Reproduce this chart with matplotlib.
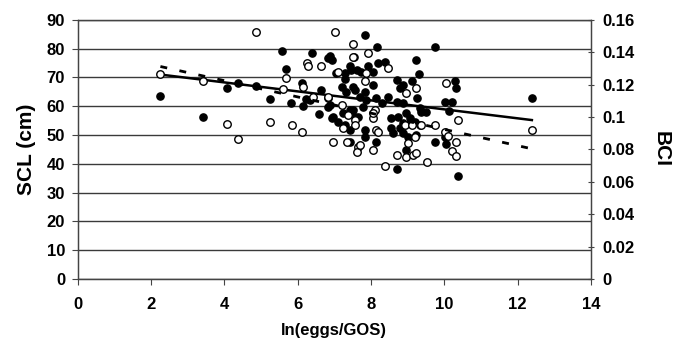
import numpy as np
import matplotlib.pyplot as plt

plt.rcParams['font.family'] = ['Liberation Sans', 'DejaVu Sans']
plt.rcParams['font.weight'] = 'bold'

# filled circles: SCL (cm), left axis
scl_x = [2.26, 3.43, 4.07, 4.37, 4.88, 5.25, 5.57, 5.68, 5.83, 6.11, 6.15, 6.23,
         6.58, 6.39, 6.63, 6.83, 6.83, 6.88, 6.93, 7.53, 7.04, 7.30, 7.29, 7.47,
         7.20, 7.33, 7.52, 6.34, 6.83, 6.88, 6.97, 7.24, 7.42, 7.56, 6.93, 7.11,
         7.29, 7.42, 7.42, 7.83, 8.17, 9.76, 7.42, 7.61, 7.74, 7.92, 8.06, 8.20,
         8.38, 9.24, 9.30, 8.70, 8.88, 8.79, 9.11, 9.27, 7.56, 7.83, 8.06, 7.70,
         7.88, 8.15, 8.29, 8.47, 8.70, 8.88, 8.56, 8.97, 9.06, 9.33, 9.51, 7.52,
         7.79, 7.65, 7.83, 7.83, 8.15, 8.56, 8.61, 8.79, 8.88, 9.01, 8.74, 8.88,
         9.20, 9.33, 9.24, 9.38, 8.97, 8.72, 9.74, 10.29, 10.33, 12.39, 10.01,
         10.20, 10.12, 10.01, 10.06, 10.38]
scl_y = [63.6, 56.3, 66.5, 68.2, 67.0, 62.4, 79.2, 72.9, 61.0, 68.2, 60.1, 62.4,
         57.4, 78.4, 65.7, 76.7, 59.9, 77.3, 76.1, 77.0, 71.5, 71.5, 69.4, 72.6,
         66.8, 65.1, 66.8, 62.2, 62.8, 60.5, 56.4, 57.6, 58.7, 56.4, 55.8, 54.7,
         53.5, 51.8, 47.7, 84.8, 80.4, 80.4, 73.8, 72.6, 72.0, 73.8, 72.0, 74.9,
         75.5, 76.1, 71.2, 69.1, 67.4, 66.3, 68.8, 62.8, 65.7, 65.1, 67.4, 63.3,
         62.2, 62.8, 61.0, 63.3, 61.6, 61.0, 55.8, 57.6, 55.8, 59.3, 58.1, 58.7,
         59.9, 56.4, 51.8, 49.4, 47.7, 52.4, 50.6, 52.4, 50.6, 49.4, 56.4, 54.1,
         54.7, 53.5, 50.0, 58.1, 44.8, 38.2, 47.7, 68.6, 66.5, 63.0, 61.6,
         61.6, 58.5, 49.4, 46.9, 35.8]

# open circles: BCI, right axis
bci_x = [2.26, 3.43, 4.07, 4.37, 4.88, 5.25, 5.68, 6.15, 5.59, 5.84, 6.11, 6.26,
         6.29, 6.63, 6.43, 7.03, 7.52, 7.11, 6.83, 7.20, 7.38, 7.56, 7.56, 7.24,
         6.97, 7.35, 7.65, 7.62, 7.52, 7.91, 8.47, 7.83, 9.24, 8.95, 8.11, 8.06,
         8.06, 8.15, 8.20, 7.70, 8.06, 8.92, 9.11, 9.38, 9.01, 8.70, 8.95, 9.15,
         9.24, 9.54, 8.38, 9.74, 9.20, 10.04, 10.38, 12.39, 10.01, 10.10, 10.33,
         10.20, 10.31, 7.88]
bci_y = [0.1264, 0.1223, 0.0960, 0.0864, 0.1522, 0.0972, 0.1239, 0.1188, 0.1175,
         0.0948, 0.0907, 0.1332, 0.1317, 0.1312, 0.1125, 0.1522, 0.1449, 0.1280,
         0.1125, 0.1076, 0.1013, 0.0981, 0.0951, 0.0932, 0.0848, 0.0848, 0.0818,
         0.0786, 0.1372, 0.1394, 0.1305, 0.1223, 0.1182, 0.1147, 0.1044, 0.0992,
         0.1024, 0.0921, 0.0910, 0.0828, 0.0796, 0.0951, 0.0951, 0.0951, 0.0839,
         0.0766, 0.0756, 0.0766, 0.0780, 0.0725, 0.0699, 0.0951, 0.0878, 0.1212,
         0.0981, 0.0921, 0.0910, 0.0884, 0.0844, 0.0791, 0.0761, 0.1271]

# trend lines (end points)
trend_x = [2.26, 12.39]
scl_trend = [71.0, 55.2]
bci_trend = [0.1312, 0.0804]

fig = plt.figure(figsize=(6.8, 3.42), dpi=100)
ax = fig.add_axes([0.114, 0.184, 0.755, 0.758])
ax2 = ax.twinx()

gc = '#3a3a3a'
ax.set_xlim(0, 14)
ax.set_ylim(0, 90)
ax.set_xticks(np.arange(0, 15, 2))
ax.set_yticks(np.arange(0, 91, 10))
ax.yaxis.grid(True, color=gc, linewidth=1.0)
ax.set_axisbelow(True)
ax2.set_ylim(0, 0.16)
ax2.set_yticks(np.arange(0, 0.161, 0.02))
ax2.set_yticklabels(['0', '0.02', '0.04', '0.06', '0.08', '0.1', '0.12', '0.14', '0.16'])

ax.plot(scl_x, scl_y, 'o', color='black', markersize=5.2, zorder=3)
ax2.plot(bci_x, bci_y, 'o', markerfacecolor='white', markeredgecolor='black',
         markeredgewidth=1.0, markersize=5.4, zorder=3)
ax.plot(trend_x, scl_trend, '-', color='black', linewidth=1.8, zorder=4)
ax2.plot(trend_x, bci_trend, color='black', linewidth=2.0,
         linestyle=(0, (2.5, 4.5)), zorder=4)

for a in (ax, ax2):
    for s in a.spines.values():
        s.set_color('#444444')
        s.set_linewidth(0.9)
ax.tick_params(axis='both', labelsize=12, length=4, color='#444444', pad=5)
ax.tick_params(axis='x', pad=9)
ax2.tick_params(axis='y', labelsize=12, length=5, direction='inout', color='#444444', pad=6)

ax.set_xlabel('ln(eggs/GOS)', fontsize=12, fontweight='bold', labelpad=8)
ax.set_ylabel('SCL (cm)', fontsize=15, fontweight='bold', labelpad=8)
ax2.set_ylabel('BCI', fontsize=15, fontweight='bold', rotation=270, labelpad=26)

fig.savefig('out.png', dpi=100)
